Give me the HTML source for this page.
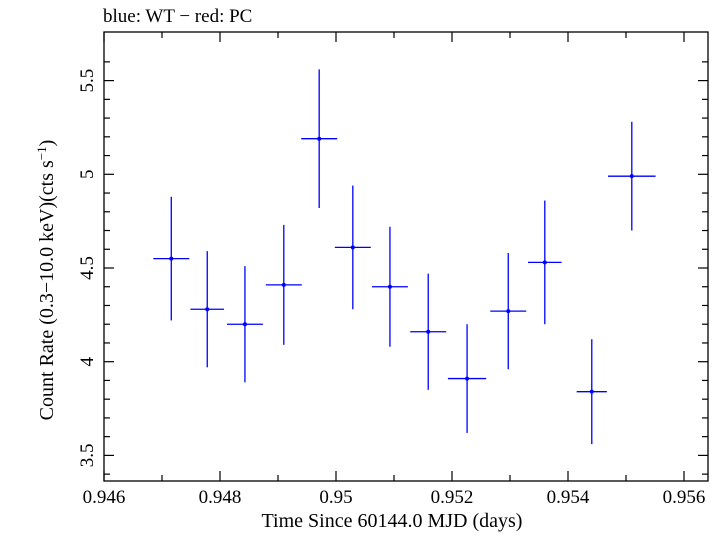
<!DOCTYPE html>
<html><head><meta charset="utf-8"><style>
body{margin:0;background:#fff}
svg text{font-family:"Liberation Serif",serif;fill:#000}
</style></head><body>
<svg width="721" height="532" viewBox="0 0 721 532">
<text x="103" y="22" font-size="19">blue: WT − red: PC</text>
<rect x="104" y="32" width="604" height="449" fill="none" stroke="#000" stroke-width="1.3"/>
<g id="ticks"></g>
<g id="marks"></g>
<text x="392" y="527" font-size="20" text-anchor="middle">Time Since 60144.0 MJD (days)</text>
<text transform="translate(53,280) rotate(-90)" font-size="20" text-anchor="middle">Count Rate (0.3−10.0 keV)(cts s<tspan dy="-7" font-size="13">−1</tspan><tspan dy="7">)</tspan></text>
</svg>
<script>
const times=[0.94716,0.94778,0.94843,0.94910,0.94971,0.95029,0.95093,0.95159,0.95226,0.95297,0.95360,0.95441,0.95510];
const rates=[4.55,4.28,4.20,4.41,5.19,4.61,4.40,4.16,3.91,4.27,4.53,3.84,4.99];
const rateErrs=[0.33,0.31,0.31,0.32,0.37,0.33,0.32,0.31,0.29,0.31,0.33,0.28,0.29];
const timeErrs=[0.00031,0.00029,0.00031,0.00031,0.00031,0.00031,0.00031,0.00031,0.00033,0.00031,0.00029,0.00026,0.00041];
const xTickLabels=["0.946","0.948","0.95","0.952","0.954","0.956"];
const yTickLabels=["3.5","4","4.5","5","5.5"];
const NS="http://www.w3.org/2000/svg";
const X=t=>104+(t-0.946)*58000;
const Y=v=>174.3-(v-5)*187.4;
function mk(tag,attrs,parent){const e=document.createElementNS(NS,tag);for(const k in attrs)e.setAttribute(k,attrs[k]);parent.appendChild(e);return e;}
const tg=document.getElementById('ticks');
for(let i=0;i<=10;i++){const t=0.946+i*0.001;const x=X(t);const L=(i%2==0)?10:6;
 mk('line',{x1:x,x2:x,y1:481,y2:481-L,stroke:'#000','stroke-width':1.2},tg);
 mk('line',{x1:x,x2:x,y1:32,y2:32+L,stroke:'#000','stroke-width':1.2},tg);}
xTickLabels.forEach(s=>{const e=mk('text',{x:X(parseFloat(s)),y:503,'font-size':19,'text-anchor':'middle'},tg);e.textContent=s;
 
 });
for(let i=0;i<=22;i++){const v=3.4+i*0.1;const y=Y(v);if(y<32||y>481)continue;const L=(Math.round(v*10)%5==0)?10:6;
 mk('line',{x1:104,x2:104+L,y1:y,y2:y,stroke:'#000','stroke-width':1.2},tg);
 mk('line',{x1:708,x2:708-L,y1:y,y2:y,stroke:'#000','stroke-width':1.2},tg);}
yTickLabels.forEach(s=>{const y=Y(parseFloat(s));const e=mk('text',{transform:`translate(93,${y}) rotate(-90)`,'font-size':19,'text-anchor':'middle'},tg);e.textContent=s;
 
 });
const mg=document.getElementById('marks');
times.forEach((t,i)=>{const g=mk('g',{},mg);
 
 
 const x=X(t),y=Y(rates[i]);
 mk('line',{x1:X(t-timeErrs[i]),x2:X(t+timeErrs[i]),y1:y,y2:y,stroke:'#0000ff','stroke-width':1.3},g);
 mk('line',{x1:x,x2:x,y1:Y(rates[i]+rateErrs[i]),y2:Y(rates[i]-rateErrs[i]),stroke:'#0000ff','stroke-width':1.3},g);
 mk('circle',{cx:x,cy:y,r:2,fill:'#0000ff'},g);});
</script>
</body></html>
